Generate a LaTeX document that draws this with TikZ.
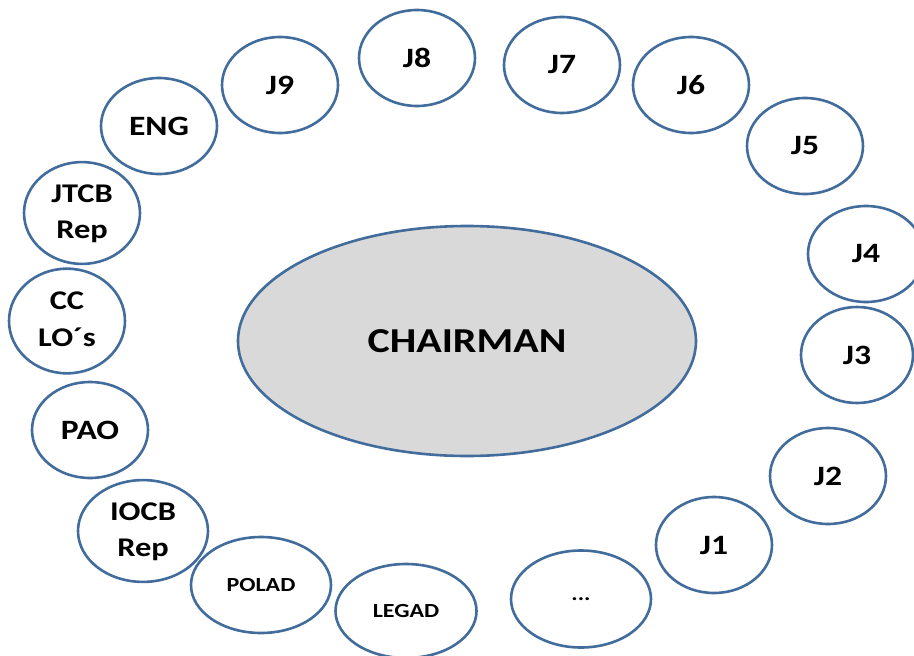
\documentclass[tikz,border=0pt]{standalone}
\usepackage{fontspec}
\usepackage{graphicx}
\setmainfont{Carlito}
\usetikzlibrary{shapes.geometric}

\definecolor{ringblue}{RGB}{65,108,155}
\definecolor{chairgray}{RGB}{217,217,217}

% labels are set slightly wide
\newcommand{\widelabel}[1]{\scalebox{1.2}[1]{#1}}
\newcommand{\twolines}[2]{\widelabel{\begin{tabular}{@{}c@{}}#1\\#2\end{tabular}}}

\tikzset{
  seat/.style={ellipse, draw=ringblue, line width=2.6pt, fill=white,
    inner sep=0pt, minimum width=116pt, minimum height=96pt,
    font=\bfseries\fontsize{28}{36}\selectfont, text=black},
  smallseat/.style={seat, font=\bfseries\fontsize{20}{24}\selectfont},
  chair/.style={ellipse, draw=ringblue, line width=2.6pt, fill=chairgray,
    inner sep=0pt, minimum width=458pt, minimum height=230pt,
    font=\bfseries\fontsize{35}{42}\selectfont, text=black}
}

\begin{document}
\begin{tikzpicture}[x=1pt,y=-1pt]
  \useasboundingbox (0,0) rectangle (914,656);

  % central table
  \node[chair] (chairman) at (467,341) {\widelabel{CHAIRMAN}};

  % seats around the table
  \node[seat] (j8) at (417,58) {\widelabel{J8}};
  \node[seat] (j7) at (562,65) {\widelabel{J7}};
  \node[seat] (j6) at (691,85) {\widelabel{J6}};
  \node[seat] (j5) at (805,146) {\widelabel{J5}};
  \node[seat] (j4) at (866,254) {\widelabel{J4}};
  \node[seat, minimum width=112pt] (j3) at (857,355) {\widelabel{J3}};
  \node[seat] (j2) at (828,476) {\widelabel{J2}};
  \node[seat] (j1) at (714,545) {\widelabel{J1}};
  \node[smallseat, minimum width=140pt, minimum height=97pt] (more) at (581,599) {\widelabel{...}};
  \node[smallseat, minimum width=141pt, minimum height=94pt] (legad) at (406,611) {\widelabel{LEGAD}};
  \node[smallseat, minimum width=140pt] (polad) at (261,585) {\widelabel{POLAD}};
  \node[seat, minimum width=130pt, minimum height=94pt, font=\bfseries\fontsize{27}{36}\selectfont] (iocb) at (143,531) {\twolines{IOCB}{Rep}};
  \node[seat] (pao) at (90,430) {\widelabel{PAO}};
  \node[seat, font=\bfseries\fontsize{27}{37}\selectfont] (cclo) at (67,321) {\twolines{CC}{LO´s}};
  \node[seat, font=\bfseries\fontsize{27}{36}\selectfont] (jtcb) at (82,213) {\twolines{JTCB}{Rep}};
  \node[seat] (eng) at (159,126) {\widelabel{ENG}};
  \node[seat] (j9) at (280,85) {\widelabel{J9}};
\end{tikzpicture}
\end{document}
